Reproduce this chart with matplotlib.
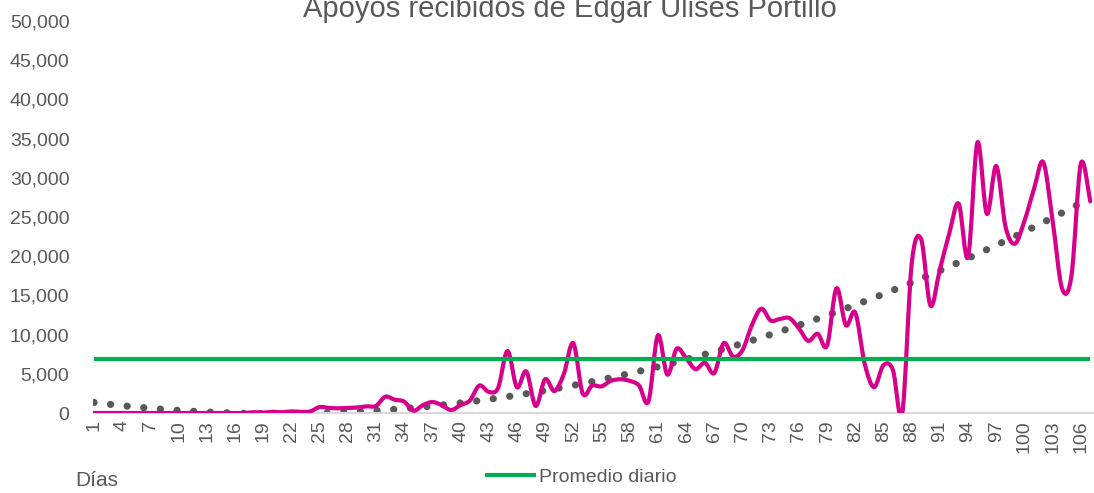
import numpy as np
import matplotlib.pyplot as plt
from matplotlib.path import Path
from matplotlib.patches import PathPatch

plt.rcParams['font.family'] = ['Liberation Sans', 'DejaVu Sans']

# datos
dias = np.arange(1, 108)
apoyos = [0, 0, 0, 0, 0, 0, 0, 0, 0, 0,
          0, 0, 0, 0, 0, 0, 0, 100, 50, 150,
          100, 200, 150, 200, 750, 650, 600, 650, 700, 850,
          900, 2070, 1700, 1450, 300, 1000, 1400, 1000, 380, 1000,
          1600, 3500, 2700, 3200, 7900, 3300, 5300, 900, 4300, 2800,
          5000, 8900, 2500, 3500, 3400, 4100, 4300, 4100, 3500, 1500,
          9900, 4900, 8200, 7000, 5600, 6400, 5100, 8900, 7200, 8000,
          11200, 13300, 11800, 12000, 12100, 10800, 9200, 10100, 8600, 15900,
          11200, 12800, 6300, 3300, 6100, 5500, 0, 19000, 22200, 13700,
          18300, 22900, 26700, 19900, 34500, 25400, 31500, 23700, 21600, 24500,
          28500, 32000, 24500, 15900, 17500, 31800, 27000]
promedio = 6870
ticks_x = list(range(1, 107, 3))
titulo = "Apoyos recibidos de Edgar Ulises Portillo"

gris = "#595959"
magenta = "#D6008A"
verde = "#00B050"

fig = plt.figure(figsize=(10.94, 4.93), dpi=100)
ax = fig.add_axes([93 / 1094, 80 / 493, 1 - 93 / 1094, 392 / 493])

# linea suavizada (estilo Excel, Catmull-Rom -> Bezier)
x = dias.astype(float)
y = np.array(apoyos, dtype=float)
px = np.concatenate([[x[0]], x, [x[-1]]])
py = np.concatenate([[y[0]], y, [y[-1]]])
verts = [(x[0], y[0])]
codes = [Path.MOVETO]
for i in range(1, len(px) - 2):
    c1 = (px[i] + (px[i + 1] - px[i - 1]) / 6, py[i] + (py[i + 1] - py[i - 1]) / 6)
    c2 = (px[i + 1] - (px[i + 2] - px[i]) / 6, py[i + 1] - (py[i + 2] - py[i]) / 6)
    verts += [c1, c2, (px[i + 1], py[i + 1])]
    codes += [Path.CURVE4] * 3
ax.add_patch(PathPatch(Path(verts, codes), facecolor="none", edgecolor=magenta,
                       lw=3, capstyle="round", joinstyle="round", zorder=3))

# linea de tendencia polinomica
coef = np.polyfit(x, y, 2)
ax.plot(x, np.polyval(coef, x), color=gris, lw=5.2, linestyle=(0, (0.01, 2.3)),
        dash_capstyle="round", zorder=2)

ax.plot(x, [promedio] * len(x), color=verde, lw=3, solid_capstyle="butt", zorder=4,
        label="Promedio diario")

ax.set_xlim(0.9, 107.4)
ax.set_ylim(0, 50000)
ax.set_yticks(range(0, 50001, 5000))
ax.set_yticklabels([f"{v:,}" for v in range(0, 50001, 5000)])
ax.set_xticks(ticks_x)
ax.set_xticklabels([str(t) for t in ticks_x], rotation=90)
ax.tick_params(axis="both", length=0, labelsize=14, labelcolor=gris)
ax.tick_params(axis="y", pad=17)
ax.tick_params(axis="x", pad=5)
for s in ["top", "right", "left"]:
    ax.spines[s].set_visible(False)
ax.spines["bottom"].set_color("#D9D9D9")
ax.spines["bottom"].set_linewidth(1.5)

fig.text(570 / 1094, 1 - 17 / 493, titulo, ha="center", va="baseline",
         fontsize=21, color=gris)
fig.text(75 / 1094, 1 - 481 / 493, "Días", ha="left", va="center",
         fontsize=15, color=gris)
fig.legend(loc="center", bbox_to_anchor=(581 / 1094, 1 - 477 / 493), frameon=False,
           fontsize=14, labelcolor=gris, handlelength=2.6, handletextpad=0.2)

fig.savefig("out.png", dpi=100)
